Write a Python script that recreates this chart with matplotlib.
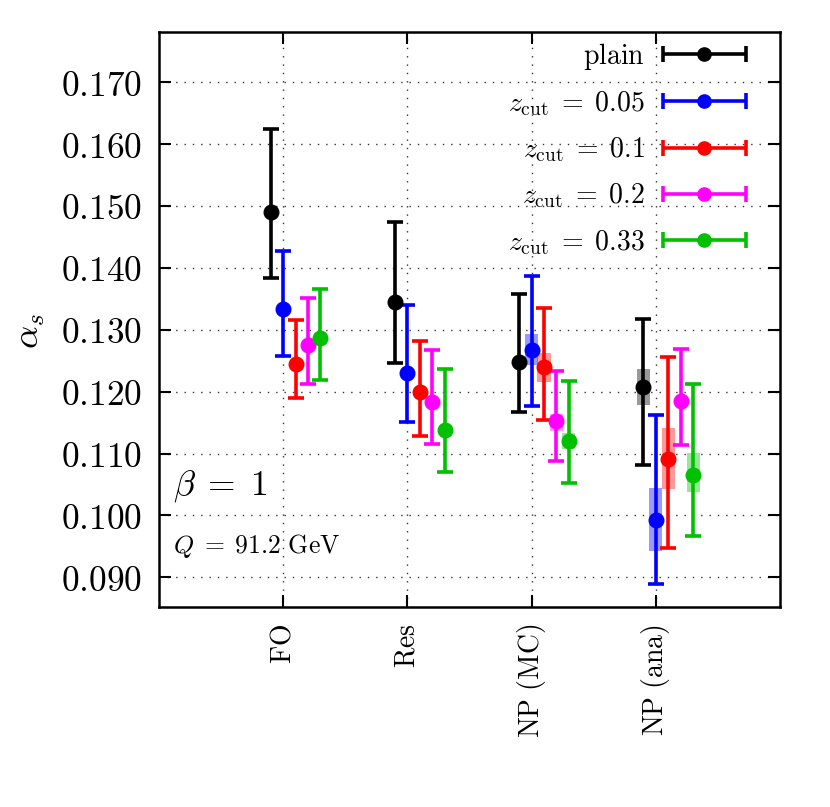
import numpy as np
import matplotlib
matplotlib.use("Agg")
import matplotlib.pyplot as plt
from matplotlib.container import ErrorbarContainer
from matplotlib.legend_handler import HandlerErrorbar

plt.rcParams['mathtext.fontset'] = 'cm'
plt.rcParams['font.family'] = ['DejaVu Serif']

categories = [r'$\mathrm{FO}$', r'$\mathrm{Res}$', r'$\mathrm{NP\ (MC)}$', r'$\mathrm{NP\ (ana)}$']
series_labels = [r'$\mathrm{plain}$', r'$z_{\rm cut}\;=\;0.05$', r'$z_{\rm cut}\;=\;0.1$',
                 r'$z_{\rm cut}\;=\;0.2$', r'$z_{\rm cut}\;=\;0.33$']
colors = ['#000000', '#0000ff', '#ff0000', '#ff00ff', '#00c000']

central_plain = [0.1490, 0.1344, 0.1248, 0.1208]
central_z005 = [0.1333, 0.1230, 0.1267, 0.0992]
central_z01 = [0.1245, 0.1199, 0.1240, 0.1091]
central_z02 = [0.1275, 0.1184, 0.1153, 0.1185]
central_z033 = [0.1286, 0.1138, 0.1121, 0.1066]

upper_plain = [0.1624, 0.1474, 0.1357, 0.1317]
upper_z005 = [0.1427, 0.1340, 0.1387, 0.1162]
upper_z01 = [0.1315, 0.1282, 0.1335, 0.1256]
upper_z02 = [0.1352, 0.1268, 0.1234, 0.1269]
upper_z033 = [0.1366, 0.1237, 0.1217, 0.1212]

lower_plain = [0.1384, 0.1247, 0.1167, 0.1082]
lower_z005 = [0.1257, 0.1151, 0.1177, 0.0889]
lower_z01 = [0.1190, 0.1128, 0.1154, 0.0947]
lower_z02 = [0.1212, 0.1115, 0.1088, 0.1113]
lower_z033 = [0.1218, 0.1070, 0.1053, 0.0967]

# non-perturbative shaded boxes (NaN where absent)
box_lo_plain = [np.nan, np.nan, 0.1243, 0.1179]
box_hi_plain = [np.nan, np.nan, 0.1255, 0.1237]
box_lo_z005 = [np.nan, np.nan, 0.1243, 0.0942]
box_hi_z005 = [np.nan, np.nan, 0.1293, 0.1045]
box_lo_z01 = [np.nan, np.nan, 0.1216, 0.1043]
box_hi_z01 = [np.nan, np.nan, 0.1263, 0.1141]
box_lo_z02 = [np.nan, np.nan, 0.1137, 0.1182]
box_hi_z02 = [np.nan, np.nan, 0.1164, 0.1188]
box_lo_z033 = [np.nan, np.nan, 0.1108, 0.1037]
box_hi_z033 = [np.nan, np.nan, 0.1133, 0.1101]

ytick_vals = [0.090, 0.100, 0.110, 0.120, 0.130, 0.140, 0.150, 0.160, 0.170]
ytick_labels = [r'$0.090$', r'$0.100$', r'$0.110$', r'$0.120$', r'$0.130$',
                r'$0.140$', r'$0.150$', r'$0.160$', r'$0.170$']

centrals = [central_plain, central_z005, central_z01, central_z02, central_z033]
uppers = [upper_plain, upper_z005, upper_z01, upper_z02, upper_z033]
lowers = [lower_plain, lower_z005, lower_z01, lower_z02, lower_z033]
box_los = [box_lo_plain, box_lo_z005, box_lo_z01, box_lo_z02, box_lo_z033]
box_his = [box_hi_plain, box_hi_z005, box_hi_z01, box_hi_z02, box_hi_z033]
offsets = [-0.1, 0.0, 0.1, 0.2, 0.3]

fig = plt.figure(figsize=(8.3, 8.07), dpi=100)
ax = fig.add_axes([159/830, 1-607/807, (780-159)/830, (607-32)/807])

xbase = np.arange(1, len(categories) + 1)

handles = []
for i in range(len(centrals)):
    x = xbase + offsets[i]
    c = np.array(centrals[i]); up = np.array(uppers[i]); lo = np.array(lowers[i])
    blo = np.array(box_los[i]); bhi = np.array(box_his[i])
    m = ~np.isnan(blo)
    ax.bar(x[m], bhi[m] - blo[m], bottom=blo[m], width=0.105, color=colors[i],
           alpha=0.4, linewidth=0, zorder=2)
    ax.errorbar(x, c, yerr=[c - lo, up - c], fmt='o', color=colors[i],
                markersize=10.5, elinewidth=2.6, capsize=6, capthick=2.6, zorder=3)
    h = ax.errorbar([np.nan], [np.nan], xerr=[1], fmt='o', color=colors[i],
                    markersize=9.5, elinewidth=2.6, capsize=6, capthick=2.6,
                    label=series_labels[i])
    handles.append(h)

ax.set_xlim(0, 5)
ax.set_ylim(0.0852, 0.1781)
ax.set_xticks(xbase)
ax.set_xticklabels(categories, rotation=90, fontsize=20)
ax.set_yticks(ytick_vals)
ax.set_yticklabels(ytick_labels, fontsize=25.5)
ax.tick_params(direction='in', top=True, right=True, length=8.6, width=1.5)
ax.tick_params(axis='x', pad=12)
ax.tick_params(axis='y', pad=12)
for s in ax.spines.values():
    s.set_linewidth(1.8)

ax.grid(True, linestyle=(0, (1, 5)), color='#333333', linewidth=1.0)
ax.set_axisbelow(True)

ax.set_ylabel(r'$\alpha_s$', fontsize=26)
ax.yaxis.set_label_coords(-0.18, 0.48)

ax.text(0.0225, 0.21, r'$\beta \;=\; 1$', transform=ax.transAxes, fontsize=25.5, va='center', ha='left')
ax.text(0.0225, 0.106, r'$Q \;=\; 91.2\ \mathrm{GeV}$', transform=ax.transAxes, fontsize=18.5, va='center', ha='left')

fs = 20
leg = ax.legend(handles=handles, loc='upper right', bbox_to_anchor=(0.945, 0.985),
                frameon=False, markerfirst=False, fontsize=fs, handlelength=3.0,
                handletextpad=0.65, labelspacing=0.63, borderaxespad=0, borderpad=0,
                handler_map={ErrorbarContainer: HandlerErrorbar(xerr_size=1.5, numpoints=1)})

fig.savefig('out.png', dpi=100)
